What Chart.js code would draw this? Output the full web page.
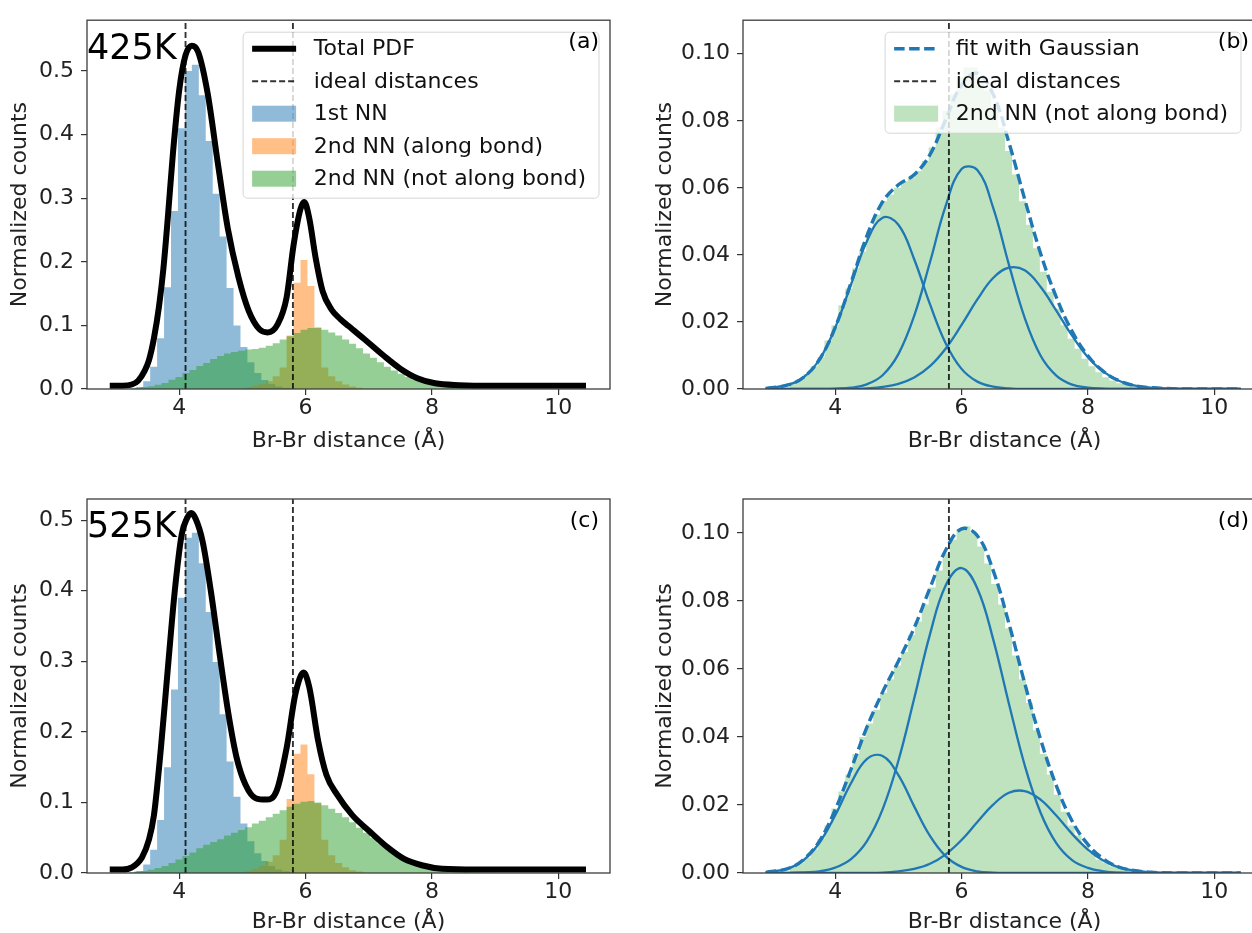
<!DOCTYPE html>
<html><head><meta charset="utf-8">
<script src="https://cdn.jsdelivr.net/npm/chart.js@4.4.0/dist/chart.umd.min.js"></script>
<style>
html,body{margin:0;padding:0;background:#fff;overflow:hidden;}
#wrap{position:relative;width:1252px;height:933px;overflow:hidden;background:#fff;}
canvas{position:absolute;}
</style></head><body>
<div id="wrap">
<canvas id="pa" width="640" height="466" style="left:0;top:0;width:640px;height:466px"></canvas>
<canvas id="pb" width="660" height="466" style="left:640px;top:0;width:660px;height:466px"></canvas>
<canvas id="pc" width="640" height="480" style="left:0;top:470px;width:640px;height:480px"></canvas>
<canvas id="pd" width="660" height="480" style="left:640px;top:470px;width:660px;height:480px"></canvas>
</div>
<script>
// ---------------- data ----------------
const xTickValues = [4, 6, 8, 10];
const yTicksLeft = [0.0, 0.1, 0.2, 0.3, 0.4, 0.5];
const yTicksRight = [0.00, 0.02, 0.04, 0.06, 0.08, 0.10];
const idealDistances = [4.1, 5.8];
const idealDistancesFit = [5.8];

// histogram bin edges (Å)
const edgesFirstNN = [3.21,3.32,3.43,3.54,3.65,3.76,3.87,3.98,4.09,4.20,4.31,4.42,4.53,4.64,4.75,4.86,4.97,5.08,5.19,5.30,5.41,5.52,5.63,5.74,5.85];
const edgesAlongBond = [5.04,5.15,5.26,5.37,5.48,5.59,5.70,5.81,5.92,6.03,6.14,6.25,6.36,6.47,6.58,6.69,6.80,6.91];
const edgesNotAlong = [3.28,3.39,3.50,3.61,3.72,3.83,3.94,4.05,4.16,4.27,4.38,4.49,4.60,4.71,4.82,4.93,5.04,5.15,5.26,5.37,5.48,5.59,5.70,5.81,5.92,6.03,6.14,6.25,6.36,6.47,6.58,6.69,6.80,6.91,7.02,7.13,7.24,7.35,7.46,7.57,7.68,7.79,7.90,8.01,8.12,8.23,8.34,8.45,8.56,8.67,8.78,8.89,9.00];

// 425K
const firstNN425 = [0.001,0.003,0.012,0.035,0.08,0.16,0.28,0.41,0.50,0.51,0.462,0.39,0.307,0.24,0.159,0.10,0.066,0.042,0.025,0.014,0.008,0.004,0.002,0.001];
const alongBond425 = [0.003,0.005,0.008,0.012,0.02,0.034,0.084,0.167,0.203,0.162,0.097,0.034,0.02,0.012,0.007,0.004,0.002];
const notAlong425 = [0.002,0.003,0.0045,0.0068,0.0095,0.0145,0.019,0.025,0.030,0.036,0.041,0.047,0.052,0.056,0.058,0.060,0.062,0.063,0.065,0.068,0.072,0.078,0.083,0.088,0.093,0.096,0.096,0.093,0.089,0.084,0.078,0.071,0.064,0.056,0.049,0.042,0.035,0.029,0.024,0.019,0.015,0.012,0.009,0.0068,0.005,0.0035,0.0025,0.0017,0.0012,0.0008,0.0005,0.0003];
const pdfX425 = [2.90,3.10,3.25,3.35,3.45,3.52,3.60,3.68,3.75,3.82,3.90,4.00,4.10,4.20,4.30,4.45,4.61,4.77,4.94,5.10,5.27,5.40,5.56,5.70,5.81,5.92,5.98,6.06,6.16,6.27,6.41,6.55,6.68,6.96,7.23,7.50,7.77,8.05,8.43,8.97,10.44];
const pdfY425 = [0.005,0.005,0.007,0.013,0.028,0.045,0.08,0.13,0.19,0.27,0.37,0.47,0.525,0.54,0.53,0.465,0.356,0.252,0.175,0.123,0.094,0.089,0.102,0.144,0.226,0.283,0.294,0.268,0.206,0.154,0.125,0.11,0.099,0.076,0.053,0.032,0.017,0.009,0.006,0.005,0.005];

// 525K
const firstNN525 = [0.001,0.003,0.012,0.033,0.075,0.15,0.26,0.39,0.475,0.482,0.439,0.37,0.299,0.225,0.158,0.108,0.07,0.045,0.028,0.017,0.01,0.005,0.0025,0.001];
const alongBond525 = [0.003,0.006,0.01,0.016,0.025,0.047,0.105,0.169,0.182,0.14,0.099,0.047,0.025,0.014,0.008,0.004,0.002];
const notAlong525 = [0.002,0.003,0.0045,0.007,0.010,0.014,0.019,0.024,0.029,0.035,0.040,0.044,0.048,0.053,0.057,0.061,0.065,0.070,0.074,0.079,0.084,0.089,0.094,0.098,0.101,0.102,0.100,0.096,0.091,0.085,0.079,0.072,0.064,0.057,0.050,0.042,0.035,0.029,0.023,0.018,0.014,0.011,0.008,0.006,0.004,0.003,0.002,0.0014,0.001,0.0007,0.0005,0.0003];
const pdfX525 = [2.90,3.10,3.25,3.41,3.52,3.60,3.71,3.82,3.93,4.04,4.12,4.19,4.26,4.37,4.50,4.64,4.78,4.91,5.05,5.21,5.38,5.54,5.70,5.84,5.97,6.06,6.20,6.33,6.50,6.74,7.02,7.29,7.56,7.84,8.16,8.71,10.44];
const pdfY525 = [0.005,0.005,0.008,0.022,0.047,0.082,0.177,0.29,0.40,0.48,0.502,0.51,0.502,0.47,0.40,0.31,0.225,0.163,0.125,0.106,0.104,0.116,0.177,0.254,0.284,0.263,0.187,0.139,0.111,0.082,0.0585,0.037,0.020,0.011,0.006,0.005,0.005];

// Gaussian fits (sampled curves)
const gaussX = [2.90,3.25,3.50,3.75,4.00,4.25,4.50,4.75,5.00,5.25,5.50,5.75,6.00,6.25,6.50,6.75,7.00,7.25,7.50,7.75,8.00,8.25,8.50,8.75,9.00,9.50,10.00,10.42];
const fit425 = [0.0002,0.0012,0.0035,0.0088,0.0184,0.0317,0.0456,0.0558,0.0609,0.0639,0.0699,0.0804,0.0907,0.0942,0.0879,0.0735,0.0566,0.0405,0.0274,0.0172,0.0099,0.0052,0.0024,0.0010,0.0004,0,0,0];
const g1_425 = [0.0002,0.0012,0.0035,0.0088,0.0183,0.0312,0.0440,0.0511,0.0490,0.0387,0.0253,0.0136,0.0060,0.0022,0.0007,0.0002,0,0,0,0,0,0,0,0,0,0,0,0];
const g2_425 = [0,0,0,0,0.0001,0.0004,0.0014,0.0041,0.0104,0.0218,0.0378,0.0547,0.0656,0.0653,0.0541,0.0371,0.0212,0.0100,0.0040,0.0013,0.0004,0.0001,0,0,0,0,0,0];
const g3_425 = [0,0,0,0,0,0,0.0002,0.0006,0.0015,0.0034,0.0068,0.0121,0.0191,0.0267,0.0331,0.0362,0.0354,0.0305,0.0234,0.0159,0.0095,0.0051,0.0024,0.0010,0.0004,0,0,0];
const fit525 = [0.0002,0.0013,0.0040,0.0094,0.0186,0.0305,0.0428,0.0532,0.0623,0.0721,0.0838,0.0950,0.1012,0.0992,0.0890,0.0734,0.0558,0.0394,0.0257,0.0153,0.0084,0.0041,0.0017,0.0007,0.0002,0,0,0];
const g1_525 = [0.0002,0.0013,0.0038,0.0089,0.0170,0.0264,0.0335,0.0344,0.0288,0.0196,0.0109,0.0049,0.0018,0.0005,0.0001,0,0,0,0,0,0,0,0,0,0,0,0,0];
const g2_525 = [0,0,0.0002,0.0005,0.0016,0.0041,0.0093,0.0187,0.0330,0.0513,0.0702,0.0846,0.0897,0.0837,0.0688,0.0498,0.0317,0.0178,0.0088,0.0038,0.0015,0.0005,0.0001,0,0,0,0,0];
const g3_525 = [0,0,0,0,0,0,0,0.0001,0.0005,0.0012,0.0027,0.0055,0.0097,0.0150,0.0201,0.0236,0.0241,0.0216,0.0169,0.0115,0.0069,0.0036,0.0016,0.0007,0.0002,0,0,0];

// ---------------- styling ----------------
const FONT = '"DejaVu Sans", "Liberation Sans", sans-serif';
const FS = 22;
const C_BLUE = 'rgba(31,119,180,0.5)';
const C_ORANGE = 'rgba(255,127,14,0.5)';
const C_GREEN = 'rgba(44,160,44,0.5)';
const C_GREEN_LIGHT = 'rgba(44,160,44,0.3)';
const C_LINE = '#1f77b4';
const IDEAL_DASH = [6, 3];
const FIT_DASH = [10.5, 4.5];
const X_MIN = 2.54, X_MAX = 10.82;

function pts(xs, ys) { return xs.map((x, i) => ({x: x, y: ys[i]})); }
function histPts(edges, vals) { return edges.map((e, i) => ({x: e, y: i < vals.length ? vals[i] : 0})); }

function histDS(edges, vals, color, order) {
  // 'before': horizontal at the bin's value across [edge_i, edge_i+1]
  return {data: histPts(edges, vals), stepped: 'before', fill: 'origin', backgroundColor: color,
    borderColor: 'rgba(0,0,0,0)', borderWidth: 0, pointRadius: 0, order: order};
}
function idealDS(x, ymax) {
  return {data: [{x: x, y: 0}, {x: x, y: ymax}], borderColor: 'rgba(0,0,0,0.8)', borderWidth: 1.9,
    borderDash: IDEAL_DASH, pointRadius: 0, fill: false, order: 1};
}

const decor = {
  id: 'decor',
  afterDatasetsDraw(chart, args, o) {
    const ctx = chart.ctx, ca = chart.chartArea;
    ctx.save();
    ctx.setLineDash([]);
    ctx.strokeStyle = '#3c3c3c';
    ctx.lineWidth = 1.3;
    ctx.strokeRect(ca.left, ca.top, ca.right - ca.left, ca.bottom - ca.top);
    if (o.temp) {
      ctx.fillStyle = '#000';
      ctx.font = '35px ' + FONT; ctx.textAlign = 'left'; ctx.textBaseline = 'alphabetic';
      ctx.fillText(o.temp, ca.left, ca.top + o.tempDy);
    }
    if (o.legend) {
      ctx.font = FS + 'px ' + FONT;
      let maxW = 0;
      o.legend.forEach(it => { maxW = Math.max(maxW, ctx.measureText(it.label).width); });
      const pad = 9, hl = 44, gap = 17.6, rowH = 32.5;
      const w = pad + hl + gap + maxW + pad + 4;
      const right = ca.right - o.legendRight, top = ca.top + 12;
      const left = right - w;
      const h = 16.5 + (o.legend.length - 1) * rowH + 19.5;
      ctx.beginPath();
      if (ctx.roundRect) ctx.roundRect(left, top, w, h, 4.5); else ctx.rect(left, top, w, h);
      ctx.fillStyle = 'rgba(255,255,255,0.8)'; ctx.fill();
      ctx.strokeStyle = 'rgba(204,204,204,0.8)'; ctx.lineWidth = 1; ctx.stroke();
      o.legend.forEach((it, i) => {
        const cy = top + 16.5 + i * rowH;
        const hx = left + pad;
        if (it.kind === 'line') {
          ctx.beginPath(); ctx.setLineDash(it.dash || []);
          ctx.strokeStyle = it.color; ctx.lineWidth = it.width; ctx.lineCap = 'butt';
          ctx.moveTo(hx, cy); ctx.lineTo(hx + hl, cy); ctx.stroke(); ctx.setLineDash([]);
        } else {
          ctx.fillStyle = it.color; ctx.fillRect(hx, cy - 8, hl, 16);
        }
        ctx.fillStyle = '#111'; ctx.textAlign = 'left'; ctx.textBaseline = 'middle';
        ctx.fillText(it.label, hx + hl + gap, cy + 1);
      });
    }
    if (o.tag) {
      ctx.fillStyle = '#000';
      ctx.font = FS + 'px ' + FONT; ctx.textAlign = 'right'; ctx.textBaseline = 'middle';
      ctx.fillText(o.tag, ca.right - o.tagRight, ca.top + 22);
    }
    ctx.restore();
  }
};

function makeChart(id, p) {
  const tickFont = {family: FONT, size: FS};
  return new Chart(document.getElementById(id), {
    type: 'line',
    data: {datasets: p.datasets},
    plugins: [decor],
    options: {
      responsive: false, animation: false, devicePixelRatio: 1,
      layout: {padding: {left: 0, top: p.padTop, right: p.padRight, bottom: 0}},
      elements: {point: {radius: 0}, line: {capBezierPoints: true}},
      plugins: {legend: {display: false}, tooltip: {enabled: false}, decor: p.decor},
      scales: {
        x: {
          type: 'linear', min: X_MIN, max: X_MAX,
          afterBuildTicks: s => { s.ticks = xTickValues.map(v => ({value: v})); },
          afterFit: s => { s.height = 77; },
          ticks: {callback: v => String(v), font: tickFont, color: '#222', padding: 0, maxRotation: 0, autoSkip: false},
          grid: {drawOnChartArea: false, drawTicks: true, tickLength: 6, color: '#333', lineWidth: 1.2},
          border: {display: false},
          title: {display: true, text: 'Br-Br distance (Å)', font: tickFont, color: '#222', padding: {top: 0, bottom: p.xTitlePad}}
        },
        y: {
          type: 'linear', min: 0, max: p.ymax,
          afterBuildTicks: s => { s.ticks = p.yTicks.map(v => ({value: v})); },
          afterFit: s => { s.width = p.yWidth; },
          ticks: {callback: v => Number(v).toFixed(p.dec), font: tickFont, color: '#222', padding: 7, autoSkip: false},
          grid: {drawOnChartArea: false, drawTicks: true, tickLength: 6, color: '#333', lineWidth: 1.2},
          border: {display: false},
          title: {display: true, text: 'Normalized counts', font: tickFont, color: '#222', padding: {top: p.yTitlePad, bottom: 0}}
        }
      }
    }
  });
}

function pdfPanel(pdfX, pdfY, firstNN, along, notAlong, ymax) {
  const ds = [
    {data: pts(pdfX, pdfY), borderColor: '#000', borderWidth: 6, cubicInterpolationMode: 'monotone', fill: false, pointRadius: 0, order: 0}
  ];
  idealDistances.forEach(d => ds.push(idealDS(d, ymax)));
  ds.push(histDS(edgesNotAlong, notAlong, C_GREEN, 2));
  ds.push(histDS(edgesAlongBond, along, C_ORANGE, 3));
  ds.push(histDS(edgesFirstNN, firstNN, C_BLUE, 4));
  return ds;
}
function fitPanel(notAlong, fit, g1, g2, g3, ymax) {
  const ds = [];
  idealDistancesFit.forEach(d => { const o = idealDS(d, ymax); o.order = 0; ds.push(o); });
  ds.push({data: pts(gaussX, fit), borderColor: C_LINE, borderWidth: 3.4, borderDash: FIT_DASH, tension: 0.4, fill: false, pointRadius: 0, order: 1});
  [g1, g2, g3].forEach(g => ds.push({data: pts(gaussX, g), borderColor: C_LINE, borderWidth: 2.3, tension: 0.4, fill: false, pointRadius: 0, order: 2}));
  ds.push(histDS(edgesNotAlong, notAlong, C_GREEN_LIGHT, 5));
  return ds;
}

const legendA = [
  {kind: 'line', color: '#000', width: 6, label: 'Total PDF'},
  {kind: 'line', color: 'rgba(0,0,0,0.8)', width: 1.9, dash: IDEAL_DASH, label: 'ideal distances'},
  {kind: 'patch', color: C_BLUE, label: '1st NN'},
  {kind: 'patch', color: C_ORANGE, label: '2nd NN (along bond)'},
  {kind: 'patch', color: C_GREEN, label: '2nd NN (not along bond)'}
];
const legendB = [
  {kind: 'line', color: C_LINE, width: 3.4, dash: FIT_DASH, label: 'fit with Gaussian'},
  {kind: 'line', color: 'rgba(0,0,0,0.8)', width: 1.9, dash: IDEAL_DASH, label: 'ideal distances'},
  {kind: 'patch', color: C_GREEN_LIGHT, label: '2nd NN (not along bond)'}
];

makeChart('pa', {datasets: pdfPanel(pdfX425, pdfY425, firstNN425, alongBond425, notAlong425, 0.58),
  padTop: 15, padRight: 30, ymax: 0.58, yTicks: yTicksLeft, dec: 1, yWidth: 87, yTitlePad: 7.3, xTitlePad: 12,
  decor: {temp: '425K', tempDy: 39, tag: '(a)', tagRight: 11, legend: legendA, legendRight: 11}});
makeChart('pb', {datasets: fitPanel(notAlong425, fit425, g1_425, g2_425, g3_425, 0.11),
  padTop: 15, padRight: 34, ymax: 0.11, yTicks: yTicksRight, dec: 2, yWidth: 103, yTitlePad: 11.6, xTitlePad: 12,
  decor: {tag: '(b)', tagRight: 17, legend: legendB, legendRight: 25}});
makeChart('pc', {datasets: pdfPanel(pdfX525, pdfY525, firstNN525, alongBond525, notAlong525, 0.53),
  padTop: 29, padRight: 30, ymax: 0.53, yTicks: yTicksLeft, dec: 1, yWidth: 87, yTitlePad: 7.3, xTitlePad: 15,
  decor: {temp: '525K', tempDy: 38, tag: '(c)', tagRight: 11}});
makeChart('pd', {datasets: fitPanel(notAlong525, fit525, g1_525, g2_525, g3_525, 0.11),
  padTop: 29, padRight: 34, ymax: 0.11, yTicks: yTicksRight, dec: 2, yWidth: 103, yTitlePad: 11.6, xTitlePad: 15,
  decor: {tag: '(d)', tagRight: 17}});
</script>
</body></html>
